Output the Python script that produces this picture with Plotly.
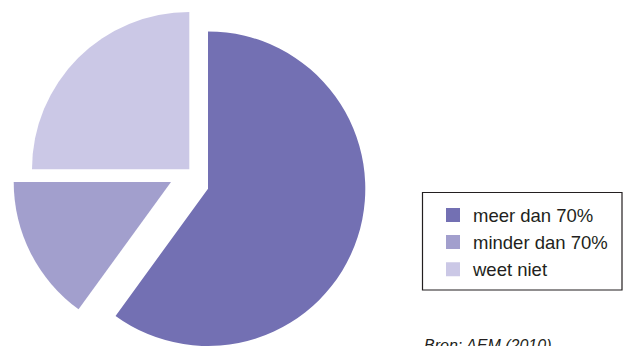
import plotly.graph_objects as go

# Answer shares (percent) and their colours
labels = ["meer dan 70%", "minder dan 70%", "weet niet"]
values = [60, 15, 25]
colors = ["#7370b3", "#a29fcd", "#cbc8e6"]
source_text = "Bron: AEM (2010)"

W, H = 629, 346
R = 157.3  # pie radius in px

# apex (pixel) of each exploded slice
apex = [(208.0, 188.7), (171.0, 182.0), (189.3, 169.3)]


def pie_domain(cx, cy):
    x0, x1 = (cx - R) / W, (cx + R) / W
    y0, y1 = (H - cy - R) / H, (H - cy + R) / H
    clamp = lambda v: min(max(v, 0.0), 1.0)
    return dict(x=[clamp(x0), clamp(x1)], y=[clamp(y0), clamp(y1)])


fig = go.Figure()

# one pie per slice so every slice can be shifted on its own
for i, (cx, cy) in enumerate(apex):
    slice_colors = [c if j == i else "rgba(0,0,0,0)" for j, c in enumerate(colors)]
    fig.add_trace(go.Pie(
        labels=labels,
        values=values,
        sort=False,
        direction="clockwise",
        rotation=0,
        marker=dict(colors=slice_colors, line=dict(width=0)),
        textinfo="none",
        hoverinfo="skip",
        showlegend=False,
        domain=pie_domain(cx, cy),
    ))

# legend entries
for lab, col in zip(labels, colors):
    fig.add_trace(go.Scatter(
        x=[None], y=[None], mode="markers", name=lab,
        marker=dict(symbol="square", size=14, color=col),
    ))

fig.update_layout(
    width=W, height=H,
    margin=dict(l=0, r=0, t=0, b=0),
    paper_bgcolor="white", plot_bgcolor="white",
    xaxis=dict(visible=False), yaxis=dict(visible=False),
    font=dict(family="Liberation Sans, Arial, sans-serif", color="#231f20"),
    legend=dict(
        x=433 / W, y=(H - 196.5) / H, xanchor="left", yanchor="top",
        bgcolor="rgba(0,0,0,0)", borderwidth=0,
        font=dict(family="Liberation Sans, Arial, sans-serif", size=18.5, color="#231f20"),
    ),
    shapes=[dict(
        type="rect", xref="paper", yref="paper",
        x0=422.5 / W, x1=622 / W, y0=(H - 290) / H, y1=(H - 192.5) / H,
        line=dict(color="#231f20", width=1.2), fillcolor="rgba(0,0,0,0)",
    )],
    annotations=[dict(
        text="<i>" + source_text + "</i>", xref="paper", yref="paper",
        x=422 / W, y=0, xanchor="left", yanchor="top", yshift=11,
        showarrow=False, font=dict(size=16, color="#231f20"),
    )],
)

fig.write_html("out.html")
